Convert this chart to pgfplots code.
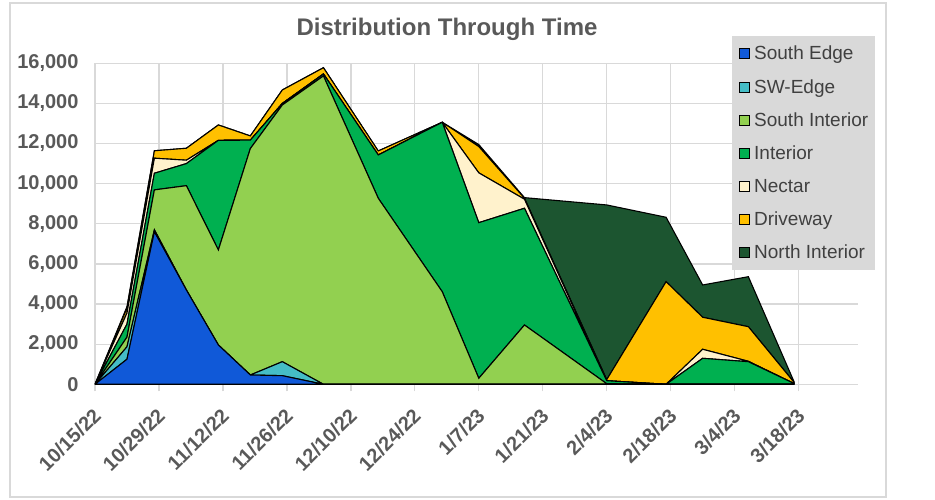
\documentclass[border=0pt]{standalone}
\usepackage{pgfplots}
\pgfplotsset{compat=1.18}
\usepackage{fontspec}
\setmainfont{Liberation Sans}
\definecolor{cSE}{HTML}{1059D8}
\definecolor{cSW}{HTML}{45BDC6}
\definecolor{cSI}{HTML}{92D050}
\definecolor{cIN}{HTML}{00B050}
\definecolor{cNE}{HTML}{FFF2CC}
\definecolor{cDR}{HTML}{FFC000}
\definecolor{cNI}{HTML}{1C5530}
\definecolor{gridc}{HTML}{D9D9D9}
\definecolor{txt}{HTML}{595959}
\definecolor{legtxt}{HTML}{404040}
\definecolor{legbg}{HTML}{D9D9D9}
\begin{document}
\begin{tikzpicture}
\path[use as bounding box] (0pt,0pt) rectangle (935pt,500pt);
\draw[color=gridc, line width=1.3pt] (10pt,3pt) rectangle (886pt,497pt);
\node[font=\bfseries\fontsize{24}{24}\selectfont, text=txt] at (447pt,471pt) {Distribution Through Time};
\begin{axis}[
  at={(95pt,115.7pt)}, anchor=south west,
  scale only axis, width=763pt, height=321pt,
  xmin=0, xmax=167, ymin=0, ymax=16000,
  stack plots=y,
  no markers,
  axis line style={draw=none},
  grid=major,
  major grid style={draw=gridc, line width=1.3pt},
  xtick={0,14,...,154},
  xticklabels={10/15/22,10/29/22,11/12/22,11/26/22,12/10/22,12/24/22,1/7/23,1/21/23,2/4/23,2/18/23,3/4/23,3/18/23},
  ytick={0,2000,...,16000},
  xtick pos=bottom, ytick pos=left,
  tick align=outside,
  major tick length=7pt,
  xtick style={draw=gridc, line width=1.3pt},
  ytick style={draw=none},
  scaled y ticks=false,
  /pgf/number format/assume math mode=true,
  /pgf/number format/1000 sep={,},
  xticklabel style={rotate=45, anchor=north east, font=\bfseries\fontsize{20}{20}\selectfont, text=txt, inner sep=2pt, xshift=-11pt, yshift=-6.8pt},
  yticklabel style={font=\bfseries\fontsize{20}{20}\selectfont, text=txt, xshift=-6pt},
  legend image code/.code={\draw[#1, draw=black, line width=0.8pt] (0pt,-5pt) rectangle (10pt,5pt); \path (14pt,0pt);},
  legend cell align=left,
  legend style={at={(0.8349,1.085)}, anchor=north west, draw=none, fill=legbg,
    inner xsep=7pt, inner ysep=10pt, row sep=18pt,
    font=\fontsize{19}{19}\selectfont, text=legtxt,
    nodes={inner sep=0pt}},
]
\addplot[draw=black, line width=1.1pt, fill=cSE] coordinates {(0,0)(7,1250)(13,7600)(20,4700)(27,1960)(34,464)(41,430)(50,0)(62,0)(76,0)(84,0)(94,0)(112,0)(125,0)(133,0)(143,0)(153,0)} \closedcycle;
\addlegendentry{South Edge}
\addplot[draw=black, line width=1.1pt, fill=cSW] coordinates {(0,0)(7,620)(13,100)(20,0)(27,0)(34,0)(41,697)(50,0)(62,0)(76,0)(84,0)(94,0)(112,0)(125,0)(133,0)(143,0)(153,0)} \closedcycle;
\addlegendentry{SW-Edge}
\addplot[draw=black, line width=1.1pt, fill=cSI] coordinates {(0,0)(7,480)(13,1990)(20,5200)(27,4735)(34,11286)(41,12793)(50,15370)(62,9272)(76,4616)(84,300)(94,2956)(112,30)(125,0)(133,0)(143,0)(153,0)} \closedcycle;
\addlegendentry{South Interior}
\addplot[draw=black, line width=1.1pt, fill=cIN] coordinates {(0,0)(7,650)(13,830)(20,1100)(27,5465)(34,420)(41,80)(50,100)(62,2159)(76,8445)(84,7756)(94,5818)(112,150)(125,0)(133,1296)(143,1127)(153,40)} \closedcycle;
\addlegendentry{Interior}
\addplot[draw=black, line width=1.1pt, fill=cNE] coordinates {(0,0)(7,550)(13,750)(20,170)(27,0)(34,0)(41,0)(50,0)(62,0)(76,0)(84,2484)(94,450)(112,0)(125,0)(133,450)(143,20)(153,0)} \closedcycle;
\addlegendentry{Nectar}
\addplot[draw=black, line width=1.1pt, fill=cDR] coordinates {(0,0)(7,250)(13,370)(20,595)(27,766)(34,210)(41,670)(50,310)(62,199)(76,0)(84,1310)(94,50)(112,50)(125,5115)(133,1595)(143,1724)(153,60)} \closedcycle;
\addlegendentry{Driveway}
\addplot[draw=black, line width=1.1pt, fill=cNI] coordinates {(0,0)(7,70)(13,0)(20,0)(27,0)(34,0)(41,0)(50,0)(62,0)(76,0)(84,100)(94,30)(112,8710)(125,3210)(133,1610)(143,2493)(153,30)} \closedcycle;
\addlegendentry{North Interior}
\end{axis}
\end{tikzpicture}
\end{document}
